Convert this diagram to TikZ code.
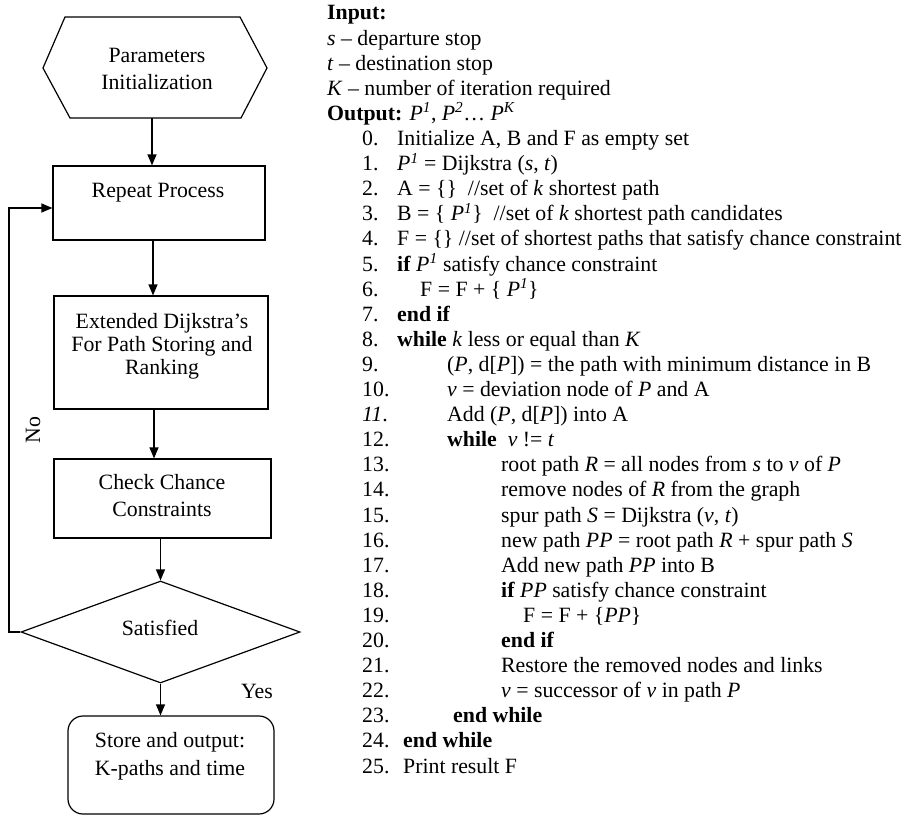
\documentclass[tikz,border=0pt]{standalone}
\usepackage{fontspec}
\setmainfont{Liberation Serif}
\usetikzlibrary{shapes.geometric,arrows.meta}
\newcommand{\Pone}{\textit{P}\textsuperscript{\itshape 1}}
\begin{document}
\begin{tikzpicture}[x=1pt,y=-1pt,
  font=\fontsize{21.8}{25}\selectfont,
  ln/.style={line width=1.2pt},
  box/.style={draw, line width=1.2pt, inner sep=0pt},
  arr/.style={line width=1.2pt, -{Triangle[length=11pt,width=9pt]}},
  lbl/.style={inner sep=0pt, align=center},
  al/.style={inner sep=0pt, anchor=base west}]
\useasboundingbox (0,0) rectangle (910,816);

% ---------------- flowchart ----------------
\draw[ln] (65,17) -- (240,17) -- (267,68) -- (241,118) -- (70,118) -- (43,68) -- cycle;
\coordinate (hexb) at (152,118);
\node[lbl, font=\fontsize{21.8}{27}\selectfont] (hexT) at (157,69) {Parameters\\Initialization};

\node[box, minimum width=212pt, minimum height=74pt] (rep) at (159,203) {};
\node[lbl] (repT) at (158,193) {Repeat Process};

\node[box, minimum width=214pt, minimum height=113pt] (ext) at (161,352.5) {};
\node[lbl, font=\fontsize{21.8}{23}\selectfont] (extT) at (162,346) {Extended Dijkstra’s\\For Path Storing and\\Ranking};

\node[box, minimum width=217pt, minimum height=79pt] (chk) at (162.5,498.5) {};
\node[lbl, font=\fontsize{21.8}{27}\selectfont] (chkT) at (162,495.5) {Check Chance\\Constraints};

\node[box, diamond, minimum width=279pt, minimum height=102pt] (dia) at (160.5,632) {};
\node[lbl] (diaT) at (160,628) {Satisfied};

\node[box, rounded corners=15pt, minimum width=206pt, minimum height=98pt] (sto) at (171,765) {};
\node[lbl, font=\fontsize{21.8}{28}\selectfont] (stoT) at (170,756) {Store and output:\\K-paths and time};

\node[lbl] (yes) at (257,691) {Yes};
\node[lbl, rotate=90] (no) at (33,430) {No};

\coordinate (xa2) at (153,0);
\coordinate (xa3) at (154,0);
\coordinate (fb) at (9,208);

\draw[arr] (hexb) -- (hexb |- rep.north);
\draw[arr] (rep.south -| xa2) -- (ext.north -| xa2);
\draw[arr] (ext.south -| xa3) -- (chk.north -| xa3);
\draw[arr] (chk.south -| dia.north) -- (dia.north);
\draw[arr] (dia.south) -- (dia.south |- sto.north);
\draw[arr] (dia.west) -| (fb) -- (rep.west |- fb);

% ---------------- algorithm ----------------
\node[al] (h0) at (327,20) {\textbf{Input:}};
\node[al] (h1) at (327,45.1) {\textit{s} – departure stop};
\node[al] (h2) at (327,70.2) {\textit{t} – destination stop};
\node[al] (h3) at (327,95.3) {\textit{K} – number of iteration required};
\node[al] (h4) at (327,120.4) {\textbf{Output:} \Pone, \textit{P}\textsuperscript{\itshape 2}… \textit{P}\textsuperscript{\itshape K}};

\node[al] (n0) at (362,145.5) {0.};
\node[al] (t0) at (397,145.5) {Initialize A, B and F as empty set};
\node[al] (n1) at (362,170.6) {1.};
\node[al] (t1) at (397,170.6) {\Pone{} = Dijkstra (\textit{s}, \textit{t})};
\node[al] (n2) at (362,195.7) {2.};
\node[al] (t2) at (397,195.7) {A = \{\}\ \ //set of \textit{k} shortest path};
\node[al] (n3) at (362,220.8) {3.};
\node[al] (t3) at (397,220.8) {B = \{ \Pone\}\ \ //set of \textit{k} shortest path candidates};
\node[al] (n4) at (362,245.9) {4.};
\node[al] (t4) at (397,245.9) {F = \{\} //set of shortest paths that satisfy chance constraint};
\node[al] (n5) at (362,271.0) {5.};
\node[al] (t5) at (397,271.0) {\textbf{if} \Pone{} satisfy chance constraint};
\node[al] (n6) at (362,296.1) {6.};
\node[al] (t6) at (420,296.1) {F = F + \{ \Pone\}};
\node[al] (n7) at (362,321.2) {7.};
\node[al] (t7) at (397,321.2) {\textbf{end if}};
\node[al] (n8) at (362,346.3) {8.};
\node[al] (t8) at (397,346.3) {\textbf{while} \textit{k} less or equal than \textit{K}};
\node[al] (n9) at (362,371.4) {9.};
\node[al] (t9) at (447,371.4) {(\textit{P}, d[\textit{P}]) = the path with minimum distance in B};
\node[al] (n10) at (362,396.5) {10.};
\node[al] (t10) at (447,396.5) {\textit{v} = deviation node of \textit{P} and A};
\node[al] (n11) at (362,421.6) {\textit{11}.};
\node[al] (t11) at (447,421.6) {Add (\textit{P}, d[\textit{P}]) into A};
\node[al] (n12) at (362,446.7) {12.};
\node[al] (t12) at (447,446.7) {\textbf{while}\ \ \textit{v} != \textit{t}};
\node[al] (n13) at (362,471.8) {13.};
\node[al] (t13) at (501,471.8) {root path \textit{R} = all nodes from \textit{s} to \textit{v} of \textit{P}};
\node[al] (n14) at (362,496.9) {14.};
\node[al] (t14) at (501,496.9) {remove nodes of \textit{R} from the graph};
\node[al] (n15) at (362,522.0) {15.};
\node[al] (t15) at (501,522.0) {spur path \textit{S} = Dijkstra (\textit{v}, \textit{t})};
\node[al] (n16) at (362,547.1) {16.};
\node[al] (t16) at (501,547.1) {new path \textit{PP} = root path \textit{R} + spur path \textit{S}};
\node[al] (n17) at (362,572.2) {17.};
\node[al] (t17) at (501,572.2) {Add new path \textit{PP} into B};
\node[al] (n18) at (362,597.3) {18.};
\node[al] (t18) at (501,597.3) {\textbf{if} \textit{PP} satisfy chance constraint};
\node[al] (n19) at (362,622.4) {19.};
\node[al] (t19) at (523,622.4) {F = F + \{\textit{PP}\}};
\node[al] (n20) at (362,647.5) {20.};
\node[al] (t20) at (501,647.5) {\textbf{end if}};
\node[al] (n21) at (362,672.6) {21.};
\node[al] (t21) at (501,672.6) {Restore the removed nodes and links};
\node[al] (n22) at (362,697.7) {22.};
\node[al] (t22) at (501,697.7) {\textit{v} = successor of \textit{v} in path \textit{P}};
\node[al] (n23) at (362,722.8) {23.};
\node[al] (t23) at (453,722.8) {\textbf{end while}};
\node[al] (n24) at (362,747.9) {24.};
\node[al] (t24) at (403,747.9) {\textbf{end while}};
\node[al] (n25) at (362,773.0) {25.};
\node[al] (t25) at (403,773.0) {Print result F};
\end{tikzpicture}
\end{document}
